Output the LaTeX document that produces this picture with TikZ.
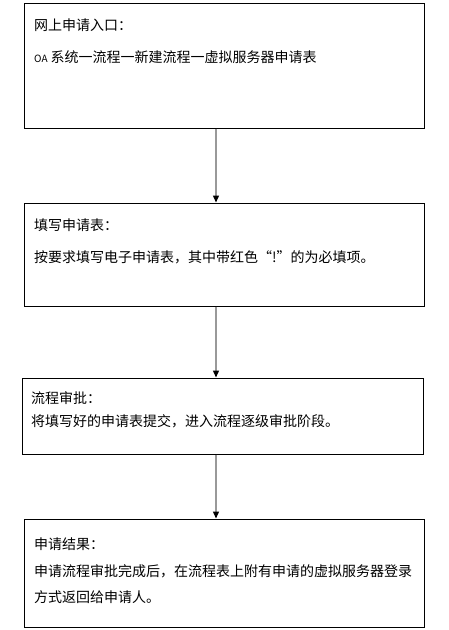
\documentclass[tikz,border=0pt]{standalone}
\usepackage{fontspec}
\setmainfont{Noto Sans CJK SC}
\usetikzlibrary{arrows.meta}
\tikzset{
  box/.style={draw=black, line width=1pt, rectangle, inner sep=0pt},
  txt/.style={anchor=west, inner sep=0pt, font=\fontsize{14}{16}\selectfont},
  flow/.style={draw=gray!80, line width=1.3pt, -{Triangle[length=7pt,width=6pt,black]}}
}
\begin{document}
\begin{tikzpicture}[x=1pt,y=-1pt]
\useasboundingbox (0,0) rectangle (449,630);
\node[box, minimum width=400pt, minimum height=125pt] (b1) at (224,65.5) {};
\node[box, minimum width=400pt, minimum height=103pt] (b2) at (224,254.5) {};
\node[box, minimum width=401pt, minimum height=76pt] (b3) at (222.5,416) {};
\node[box, minimum width=400pt, minimum height=108pt] (b4) at (224,573) {};

\node[txt] (t1) at (34,25) {网上申请入口：};
\node[txt] (t1b) at (34,57) {{\fontsize{10}{12}\selectfont OA} 系统一流程一新建流程一虚拟服务器申请表};
\node[txt] (t2) at (34,225) {填写申请表：};
\node[txt] (t2b) at (34,257) {按要求填写电子申请表，其中带红色“!”的为必填项。};
\node[txt] (t3) at (31,398) {流程审批：};
\node[txt] (t3b) at (31,421) {将填写好的申请表提交，进入流程逐级审批阶段。};
\node[txt] (t4) at (34,544) {申请结果：};
\node[txt] (t4b) at (34,571) {申请流程审批完成后，在流程表上附有申请的虚拟服务器登录};
\node[txt] (t4c) at (34,597) {方式返回给申请人。};

\draw[flow] (b1.south -| 216,0) -- (b2.north -| 216,0);
\draw[flow] (b2.south -| 216,0) -- (b3.north -| 216,0);
\draw[flow] (b3.south -| 216,0) -- (b4.north -| 216,0);
\end{tikzpicture}
\end{document}
